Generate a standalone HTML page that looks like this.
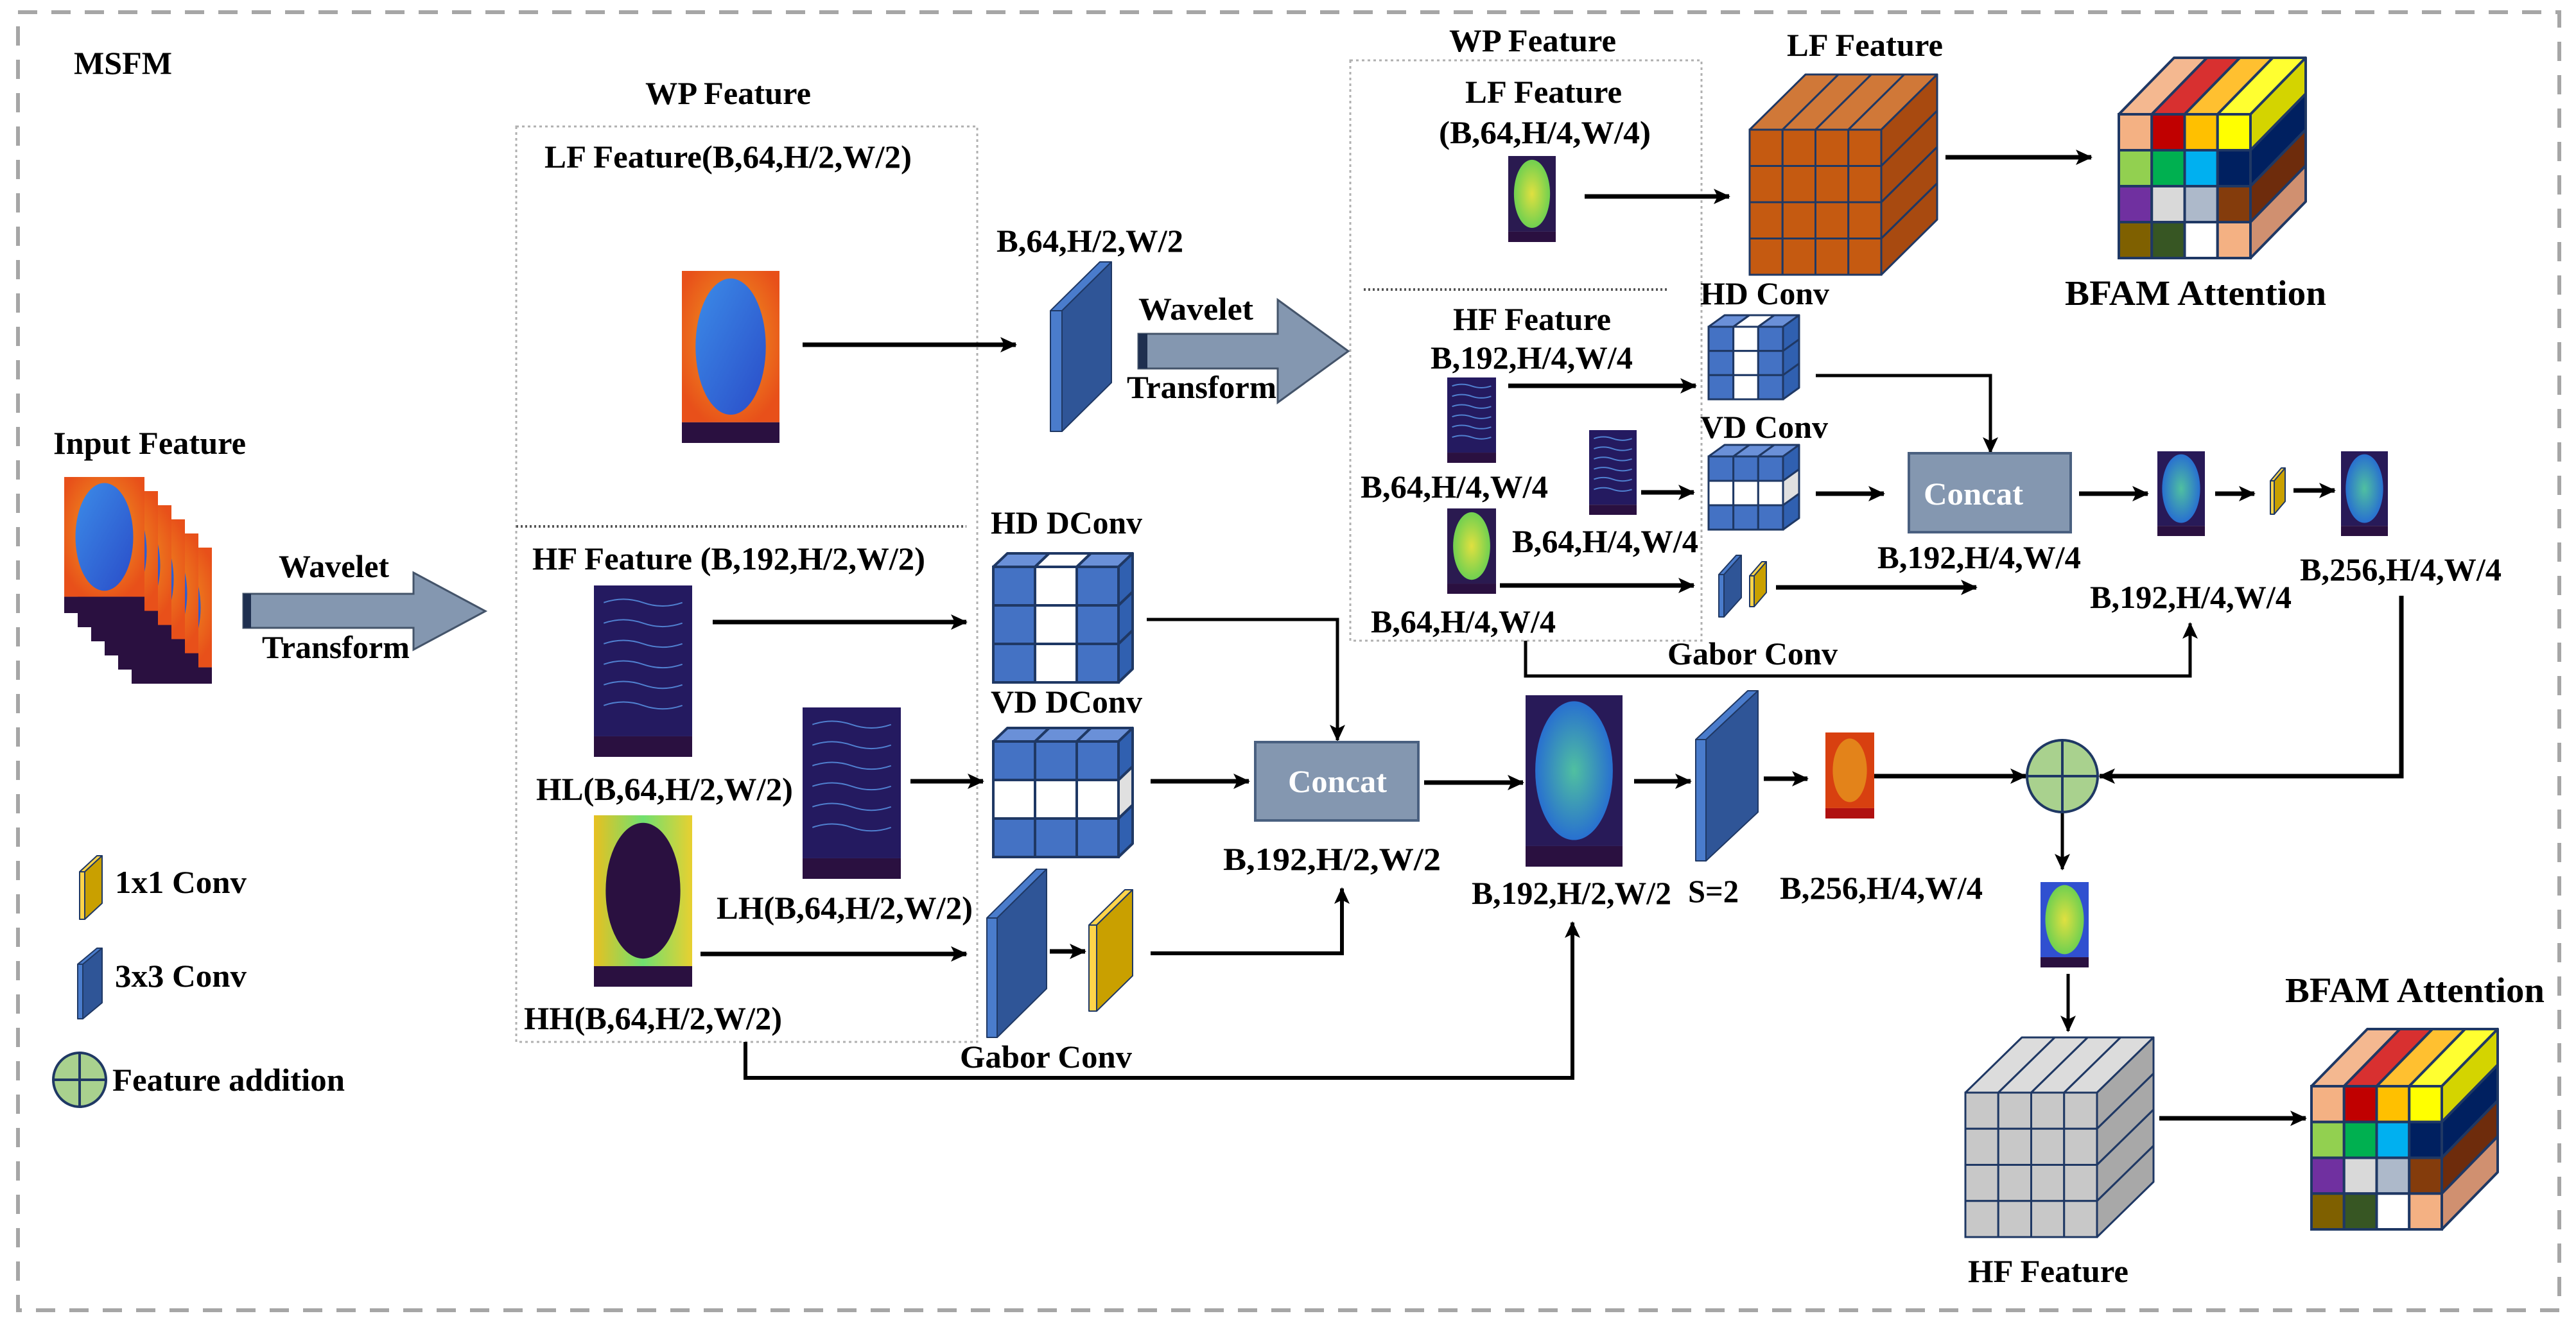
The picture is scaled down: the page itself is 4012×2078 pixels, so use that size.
<!DOCTYPE html>
<html><head><meta charset="utf-8"><style>
html,body{margin:0;padding:0;background:#fff}
svg{display:block}
text{font-family:"Liberation Serif",serif;font-weight:bold;fill:#000}
</style></head><body>
<svg id="svg" width="4012" height="2078" viewBox="0 0 4012 2078" xmlns="http://www.w3.org/2000/svg">
<defs>
<marker id="ah" markerUnits="userSpaceOnUse" markerWidth="26" markerHeight="24" refX="24" refY="12" orient="auto"><path d="M0,0 L26,12 L0,24 L6,12 Z" fill="#000"/></marker>
<radialGradient id="gLF" cx="50%" cy="45%" r="60%"><stop offset="0" stop-color="#f0a020"/><stop offset="1" stop-color="#e8501a"/></radialGradient>
<linearGradient id="gBlob" x1="0" y1="0" x2="1" y2="1"><stop offset="0" stop-color="#3c8ce8"/><stop offset="1" stop-color="#2a4cc8"/></linearGradient>
<linearGradient id="gHH" x1="0" y1="0" x2="1" y2="0"><stop offset="0" stop-color="#e8c020"/><stop offset=".5" stop-color="#70e070"/><stop offset="1" stop-color="#e8d030"/></linearGradient>
<radialGradient id="gGreen" cx="50%" cy="50%" r="50%"><stop offset="0" stop-color="#e0e040"/><stop offset="1" stop-color="#70d050"/></radialGradient>
<radialGradient id="gBlueG" cx="50%" cy="50%" r="50%"><stop offset="0" stop-color="#50c0a0"/><stop offset="1" stop-color="#2870d0"/></radialGradient>
</defs>
<rect x="28" y="19" width="3958" height="2022" fill="none" stroke="#a6a6a6" stroke-width="6" stroke-dasharray="30,22"/>
<rect x="804" y="197" width="718" height="1426" fill="none" stroke="#b0b0b0" stroke-width="3" stroke-dasharray="4,5"/>
<line x1="804" y1="820" x2="1505" y2="820" stroke="#555" stroke-width="4" stroke-dasharray="3,4"/>
<rect x="2103" y="94" width="547" height="904" fill="none" stroke="#b0b0b0" stroke-width="3" stroke-dasharray="4,5"/>
<line x1="2124" y1="451" x2="2597" y2="451" stroke="#555" stroke-width="4" stroke-dasharray="3,4"/>
<g id="s"></g>
<g id="arrows" fill="none" stroke="#000" stroke-width="7" marker-end="url(#ah)">
<line x1="1250" y1="537" x2="1582" y2="537"/>
<line x1="1110" y1="969" x2="1505" y2="969"/>
<polyline points="1786,965 2083,965 2083,1153" stroke-width="5"/>
<line x1="1418" y1="1217" x2="1531" y2="1217"/>
<line x1="1792" y1="1217" x2="1945" y2="1217"/>
<line x1="1091" y1="1486" x2="1505" y2="1486"/>
<line x1="1635" y1="1482" x2="1690" y2="1482"/>
<polyline points="1792,1485 2090,1485 2090,1384" stroke-width="6"/>
<polyline points="1161,1623 1161,1679 2449,1679 2449,1437" stroke-width="6"/>
<line x1="2218" y1="1219" x2="2372" y2="1219"/>
<line x1="2545" y1="1217" x2="2633" y2="1217"/>
<line x1="2747" y1="1213" x2="2815" y2="1213"/>
<line x1="2919" y1="1209" x2="3155" y2="1209"/>
<polyline points="3740,928 3740,1209 3270,1209"/>
<line x1="3212" y1="1265" x2="3212" y2="1354" stroke-width="5"/>
<line x1="3221" y1="1517" x2="3221" y2="1606" stroke-width="5"/>
<line x1="3363" y1="1742" x2="3591" y2="1742"/>
<line x1="2468" y1="306" x2="2693" y2="306"/>
<line x1="3030" y1="245" x2="3257" y2="245"/>
<line x1="2349" y1="601" x2="2641" y2="601"/>
<polyline points="2828,585 3100,585 3100,705" stroke-width="5"/>
<line x1="2556" y1="767" x2="2638" y2="767"/>
<line x1="2828" y1="769" x2="2934" y2="769"/>
<line x1="2336" y1="912" x2="2638" y2="912"/>
<line x1="2766" y1="915" x2="3078" y2="915"/>
<polyline points="2376,998 2376,1053 3411,1053 3411,971" stroke-width="5"/>
<line x1="3238" y1="769" x2="3345" y2="769"/>
<line x1="3450" y1="769" x2="3511" y2="769"/>
<line x1="3572" y1="764" x2="3636" y2="764"/>
</g>
<!-- wavelet arrows -->
<polygon points="379,925 644,925 644,892 756,952 644,1012 644,978 379,978" fill="#8497b0" stroke="#44546a" stroke-width="3"/>
<rect x="379" y="925" width="12" height="53" fill="#1f3050"/>
<polygon points="1773,520 1990,520 1990,467 2100,547 1990,627 1990,574 1773,574" fill="#8497b0" stroke="#44546a" stroke-width="3"/>
<rect x="1773" y="520" width="14" height="54" fill="#1f3050"/>
<!-- concat boxes -->
<rect x="1955" y="1156" width="254" height="122" fill="#8497b0" stroke="#4a6080" stroke-width="4"/>
<rect x="2973" y="706" width="252" height="123" fill="#8497b0" stroke="#4a6080" stroke-width="4"/>
<!-- addition circles -->
<g stroke="#1f3864" stroke-width="4" fill="#a9d18e">
<ellipse cx="3212" cy="1209" rx="55" ry="56"/>
<line x1="3157" y1="1209" x2="3267" y2="1209"/><line x1="3212" y1="1153" x2="3212" y2="1265"/>
<ellipse cx="124" cy="1682" rx="41" ry="42"/>
<line x1="83" y1="1682" x2="165" y2="1682"/><line x1="124" y1="1640" x2="124" y2="1724"/>
</g>
<g id="t" font-size="50">
<text x="115" y="115" textLength="153" lengthAdjust="spacingAndGlyphs">MSFM</text>
<text x="1005" y="162" textLength="258" lengthAdjust="spacingAndGlyphs">WP Feature</text>
<text x="848" y="261" textLength="572" lengthAdjust="spacingAndGlyphs">LF Feature(B,64,H/2,W/2)</text>
<text x="1552" y="392" textLength="291" lengthAdjust="spacingAndGlyphs">B,64,H/2,W/2</text>
<text x="1773" y="498" textLength="179" lengthAdjust="spacingAndGlyphs">Wavelet</text>
<text x="1755" y="620" textLength="233" lengthAdjust="spacingAndGlyphs">Transform</text>
<text x="83" y="707" textLength="300" lengthAdjust="spacingAndGlyphs">Input Feature</text>
<text x="434" y="899" textLength="172" lengthAdjust="spacingAndGlyphs">Wavelet</text>
<text x="408" y="1025" textLength="230" lengthAdjust="spacingAndGlyphs">Transform</text>
<text x="1543" y="831" textLength="236" lengthAdjust="spacingAndGlyphs">HD DConv</text>
<text x="829" y="887" textLength="612" lengthAdjust="spacingAndGlyphs">HF Feature (B,192,H/2,W/2)</text>
<text x="1543" y="1110" textLength="236" lengthAdjust="spacingAndGlyphs">VD DConv</text>
<text x="835" y="1246" textLength="400" lengthAdjust="spacingAndGlyphs">HL(B,64,H/2,W/2)</text>
<text x="1116" y="1431" textLength="399" lengthAdjust="spacingAndGlyphs">LH(B,64,H/2,W/2)</text>
<text x="816" y="1603" textLength="402" lengthAdjust="spacingAndGlyphs">HH(B,64,H/2,W/2)</text>
<text x="1495" y="1663" textLength="268" lengthAdjust="spacingAndGlyphs">Gabor Conv</text>
<text x="179" y="1391" textLength="205" lengthAdjust="spacingAndGlyphs">1x1 Conv</text>
<text x="179" y="1537" textLength="205" lengthAdjust="spacingAndGlyphs">3x3 Conv</text>
<text x="175" y="1699" textLength="362" lengthAdjust="spacingAndGlyphs">Feature addition</text>
<text x="2006" y="1234" textLength="154" lengthAdjust="spacingAndGlyphs" style="fill:#fff">Concat</text>
<text x="1905" y="1355" textLength="339" lengthAdjust="spacingAndGlyphs">B,192,H/2,W/2</text>
<text x="2292" y="1408" textLength="311" lengthAdjust="spacingAndGlyphs">B,192,H/2,W/2</text>
<text x="2629" y="1405" textLength="79" lengthAdjust="spacingAndGlyphs">S=2</text>
<text x="2772" y="1400" textLength="316" lengthAdjust="spacingAndGlyphs">B,256,H/4,W/4</text>
<text x="3065" y="1997" textLength="250" lengthAdjust="spacingAndGlyphs">HF Feature</text>
<text x="3559" y="1561" textLength="404" lengthAdjust="spacingAndGlyphs" font-size="55">BFAM Attention</text>
<text x="2257" y="80" textLength="260" lengthAdjust="spacingAndGlyphs">WP Feature</text>
<text x="2282" y="160" textLength="244" lengthAdjust="spacingAndGlyphs">LF Feature</text>
<text x="2241" y="223" textLength="330" lengthAdjust="spacingAndGlyphs">(B,64,H/4,W/4)</text>
<text x="2783" y="87" textLength="243" lengthAdjust="spacingAndGlyphs">LF Feature</text>
<text x="3216" y="475" textLength="407" lengthAdjust="spacingAndGlyphs" font-size="55">BFAM Attention</text>
<text x="2648" y="474" textLength="201" lengthAdjust="spacingAndGlyphs">HD Conv</text>
<text x="2263" y="514" textLength="246" lengthAdjust="spacingAndGlyphs">HF Feature</text>
<text x="2228" y="574" textLength="315" lengthAdjust="spacingAndGlyphs">B,192,H/4,W/4</text>
<text x="2648" y="682" textLength="199" lengthAdjust="spacingAndGlyphs">VD Conv</text>
<text x="2119" y="775" textLength="292" lengthAdjust="spacingAndGlyphs">B,64,H/4,W/4</text>
<text x="2355" y="860" textLength="290" lengthAdjust="spacingAndGlyphs">B,64,H/4,W/4</text>
<text x="2924" y="885" textLength="317" lengthAdjust="spacingAndGlyphs">B,192,H/4,W/4</text>
<text x="2135" y="985" textLength="288" lengthAdjust="spacingAndGlyphs">B,64,H/4,W/4</text>
<text x="2597" y="1035" textLength="265" lengthAdjust="spacingAndGlyphs">Gabor Conv</text>
<text x="3255" y="947" textLength="314" lengthAdjust="spacingAndGlyphs">B,192,H/4,W/4</text>
<text x="3582" y="904" textLength="314" lengthAdjust="spacingAndGlyphs">B,256,H/4,W/4</text>
<text x="2996" y="786" textLength="155" lengthAdjust="spacingAndGlyphs" style="fill:#fff">Concat</text>
</g>
</svg>
<script>
var NS="http://www.w3.org/2000/svg",G=document.getElementById("s");
function el(n,a){var e=document.createElementNS(NS,n);for(var k in a)e.setAttribute(k,a[k]);G.appendChild(e);return e;}
function poly(p,f,s,w){return el("polygon",{points:p.map(function(q){return q.join(",")}).join(" "),fill:f,stroke:s||"#1f3864","stroke-width":w||3,"stroke-linejoin":"round"});}
function cube(x,y,w,h,dx,dy,cols,rows,front,top,side,sw){
 var cw=w/cols,rh=h/rows;
 for(var c=0;c<cols;c++){poly([[x+c*cw,y],[x+c*cw+dx,y-dy],[x+(c+1)*cw+dx,y-dy],[x+(c+1)*cw,y]],top(c),null,sw);}
 for(var r=0;r<rows;r++){poly([[x+w,y+r*rh],[x+w+dx,y+r*rh-dy],[x+w+dx,y+(r+1)*rh-dy],[x+w,y+(r+1)*rh]],side(r),null,sw);}
 for(var r=0;r<rows;r++)for(var c=0;c<cols;c++){el("rect",{x:x+c*cw,y:y+r*rh,width:cw,height:rh,fill:front(r,c),stroke:"#1f3864","stroke-width":sw||3});}
}
function slab(x0,y0,x1,y1,k,t,main,edge,top){
 poly([[x0,y0+k],[x1-t,y0],[x1,y0],[x0+t,y0+k]],top||edge,"#1f3864",2);
 poly([[x0+t,y0+k],[x1,y0],[x1,y1-k],[x0+t,y1]],main,"#1f3864",2);
 poly([[x0,y0+k],[x0+t,y0+k],[x0+t,y1],[x0,y1]],edge,"#1f3864",2);
}
// cubes
var BF=[["#f4b183","#c00000","#ffc000","#ffff00"],["#92d050","#00b050","#00b0f0","#002060"],["#7030a0","#d9d9d9","#adb9ca","#843c0c"],["#7f6000","#375623","#ffffff","#f4b183"]];
var BT=["#f4b890","#d83030","#ffc030","#ffff30"],BS=["#d4d400","#002060","#6e2c0c","#d09070"];
cube(3300,178,205,224,86,88,4,4,function(r,c){return BF[r][c]},function(c){return BT[c]},function(r){return BS[r]},4);
cube(3600,1692,203,223,87,89,4,4,function(r,c){return BF[r][c]},function(c){return BT[c]},function(r){return BS[r]},4);
cube(2725,202,205,226,87,86,4,4,function(){return "#c55a11"},function(){return "#d07838"},function(){return "#a84a10"},3);
cube(3061,1702,205,225,88,86,4,4,function(){return "#c8c8c8"},function(){return "#dcdcdc"},function(){return "#a8a8a8"},3);
var B="#4472c4",BT2="#6a90d8",BS2="#3060b0";
cube(1547,883,195,180,22,21,3,3,function(r,c){return c==1?"#fff":B},function(c){return c==1?"#fff":BT2},function(){return BS2},4);
cube(1547,1155,195,180,22,21,3,3,function(r,c){return r==1?"#fff":B},function(){return BT2},function(r){return r==1?"#e0e0e0":BS2},4);
cube(2661,509,116,113,25,18,3,3,function(r,c){return c==1?"#fff":B},function(c){return c==1?"#fff":BT2},function(){return BS2},3);
cube(2661,711,116,114,25,18,3,3,function(r,c){return r==1?"#fff":B},function(){return BT2},function(r){return r==1?"#e0e0e0":BS2},3);
// slabs
var M="#2f5597",E="#4a7ccc",Y="#c9a000",YE="#ffd44a";
slab(1636,408,1731,672,76,18,M,E);
slab(1537,1354,1630,1616,76,16,M,E);
slab(1696,1386,1764,1575,55,12,Y,YE);
slab(2641,1076,2738,1341,76,16,M,E);
slab(124,1333,159,1432,25,8,Y,YE);
slab(121,1477,159,1587,25,8,M,E);
slab(2677,865,2712,961,30,8,M,E);
slab(2725,875,2751,945,22,7,Y,YE);
slab(3536,729,3559,801,20,6,Y,YE);
// feature images
function img(x,y,w,h,t){
 var bh=h*0.12;
 if(t=="lf"){el("rect",{x:x,y:y,width:w,height:h-bh,fill:"url(#gLF)"});el("ellipse",{cx:x+w*0.5,cy:y+(h-bh)*0.5,rx:w*0.36,ry:(h-bh)*0.45,fill:"url(#gBlob)"});}
 else if(t=="hf"){el("rect",{x:x,y:y,width:w,height:h-bh,fill:"#241a60"});for(var i=0;i<6;i++)el("path",{d:"M"+(x+w*0.1)+","+(y+h*(0.1+i*0.12))+" q"+w*0.2+","+(-h*0.04)+" "+w*0.4+",0 t"+w*0.4+",0",stroke:"#5080d0","stroke-width":2,fill:"none"});}
 else if(t=="hh"){el("rect",{x:x,y:y,width:w,height:h-bh,fill:"url(#gHH)"});el("ellipse",{cx:x+w*0.5,cy:y+(h-bh)*0.5,rx:w*0.38,ry:(h-bh)*0.45,fill:"#2a1040"});}
 else if(t=="gr"){el("rect",{x:x,y:y,width:w,height:h-bh,fill:"#2a1a50"});el("ellipse",{cx:x+w*0.5,cy:y+(h-bh)*0.5,rx:w*0.38,ry:(h-bh)*0.45,fill:"url(#gGreen)"});}
 else if(t=="bg"){el("rect",{x:x,y:y,width:w,height:h-bh,fill:"#281a58"});el("ellipse",{cx:x+w*0.5,cy:y+(h-bh)*0.5,rx:w*0.4,ry:(h-bh)*0.46,fill:"url(#gBlueG)"});}
 else if(t=="red"){el("rect",{x:x,y:y,width:w,height:h-bh,fill:"#d84010"});el("ellipse",{cx:x+w*0.5,cy:y+(h-bh)*0.5,rx:w*0.35,ry:(h-bh)*0.42,fill:"#e8a020",opacity:0.7});}
 else if(t=="rg"){el("rect",{x:x,y:y,width:w,height:h-bh,fill:"#3050d0"});el("ellipse",{cx:x+w*0.5,cy:y+(h-bh)*0.5,rx:w*0.4,ry:(h-bh)*0.46,fill:"url(#gGreen)"});}
 el("rect",{x:x,y:y+h-bh,width:w,height:bh,fill:t=="red"?"#b01010":"#2a1040"});
}
for(var i=5;i>=0;i--)img(100+i*21,743+i*22,125,212,"lf");
img(1062,422,152,268,"lf");
img(925,912,153,267,"hf");
img(1250,1102,153,267,"hf");
img(925,1270,153,267,"hh");
img(2376,1083,151,267,"bg");
img(2843,1141,76,134,"red");
img(3178,1374,75,133,"rg");
img(2349,243,74,134,"gr");
img(2254,588,76,133,"hf");
img(2475,670,74,132,"hf");
img(2254,792,76,133,"gr");
img(3360,703,74,132,"bg");
img(3646,703,73,132,"bg");
</script>
</body></html>
